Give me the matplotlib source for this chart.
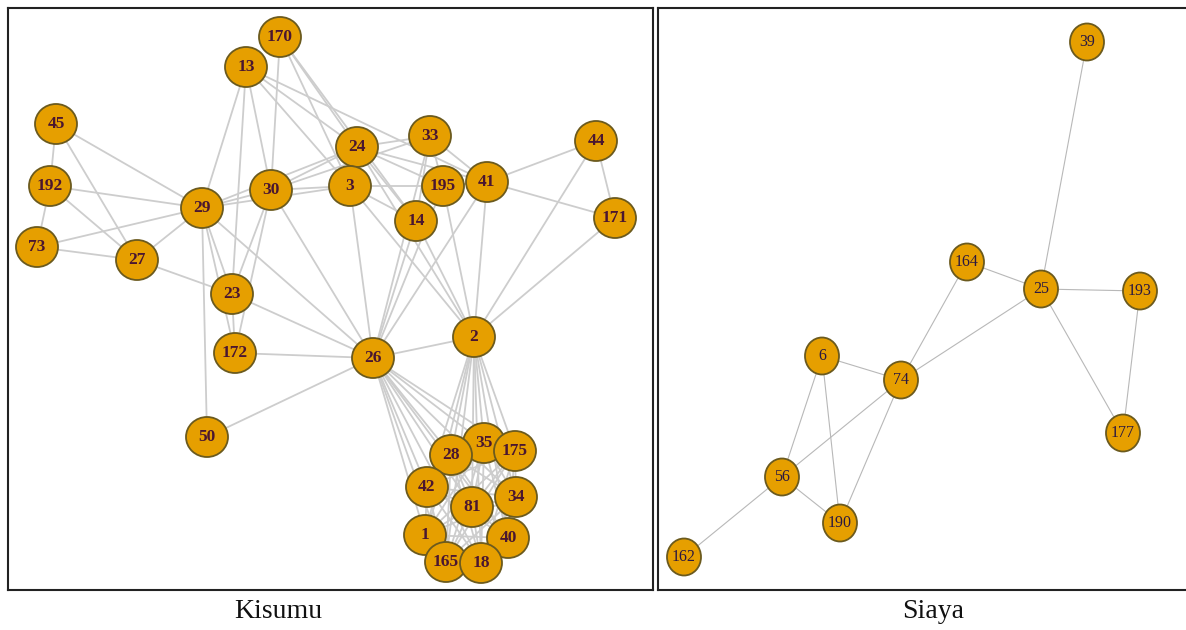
"""Two network panels (Kisumu, Siaya) drawn igraph-style with matplotlib."""
import matplotlib
matplotlib.use('Agg')
import matplotlib.pyplot as plt
from matplotlib.patches import Ellipse

W, H = 1186, 630

# --- Kisumu: node layout (image pixel coords) ---
kis_nodes = ['45', '192', '73', '27', '29', '170', '13', '30', '23', '172', '50',
             '24', '3', '33', '195', '41', '14', '44', '171', '26', '2',
             '35', '28', '175', '42', '81', '34', '1', '40', '165', '18']
kis_x = [56, 50, 37, 137, 202, 280, 246, 271, 232, 235, 207,
         357, 350, 430, 443, 487, 416, 596, 615, 373, 474,
         484, 451, 515, 427, 472, 516, 425, 508, 446, 481]
kis_y = [124, 186, 247, 260, 208, 37, 67, 190, 294, 353, 437,
         147, 186, 136, 186, 182, 221, 141, 218, 358, 337,
         443, 455, 451, 487, 507, 497, 535, 538, 562, 563]

kis_edges = [
    ('45', '192'), ('45', '29'), ('45', '27'),
    ('192', '73'), ('192', '29'), ('192', '27'),
    ('73', '29'), ('73', '27'), ('27', '29'), ('27', '23'),
    ('29', '13'), ('29', '30'), ('29', '23'), ('29', '172'), ('29', '50'),
    ('29', '26'), ('29', '3'), ('29', '24'),
    ('13', '30'), ('13', '24'), ('13', '3'), ('13', '41'), ('13', '23'),
    ('170', '30'), ('170', '3'), ('170', '24'), ('170', '14'),
    ('30', '3'), ('30', '24'), ('30', '23'), ('30', '172'), ('30', '26'), ('30', '33'),
    ('23', '172'), ('23', '26'), ('172', '26'), ('50', '26'),
    ('24', '33'), ('24', '195'), ('24', '14'), ('24', '2'), ('24', '41'),
    ('3', '195'), ('3', '26'), ('3', '2'), ('3', '14'),
    ('33', '195'), ('33', '41'), ('33', '14'), ('33', '26'),
    ('195', '41'), ('195', '2'), ('195', '26'),
    ('41', '44'), ('41', '171'), ('41', '2'), ('41', '26'),
    ('14', '26'), ('14', '2'),
    ('44', '171'), ('44', '2'), ('171', '2'), ('26', '2'),
]
# dense cluster at the bottom: everyone linked to each other and to 26 and 2
kis_cluster = ['35', '28', '175', '42', '81', '34', '1', '40', '165', '18']

# --- Siaya ---
sia_nodes = ['39', '164', '25', '193', '6', '74', '177', '56', '190', '162']
sia_x = [1087, 967, 1041, 1140, 822, 901, 1123, 782, 840, 684]
sia_y = [42, 262, 289, 291, 356, 380, 433, 477, 523, 557]
sia_edges = [('39', '25'), ('164', '25'), ('25', '193'), ('25', '74'), ('25', '177'),
             ('193', '177'), ('164', '74'), ('6', '74'), ('6', '56'), ('6', '190'),
             ('74', '56'), ('74', '190'), ('56', '190'), ('56', '162')]

FILL = '#E69F00'
BORDER = '#6b5a1e'


def panel(box, nodes, xs, ys, edges, node_w, node_h, ecol, elw, fsize, fweight, tcol,
          title, title_x):
    x0, y0, x1, y1 = box
    ax = fig.add_axes([x0 / W, 1 - y1 / H, (x1 - x0) / W, (y1 - y0) / H])
    ax.set_xlim(x0, x1); ax.set_ylim(y1, y0)
    ax.set_xticks([]); ax.set_yticks([])
    for s in ax.spines.values():
        s.set_linewidth(1.5); s.set_color('#222222')
    pos = {n: (x, y) for n, x, y in zip(nodes, xs, ys)}
    for a, b in edges:
        ax.plot([pos[a][0], pos[b][0]], [pos[a][1], pos[b][1]],
                color=ecol, lw=elw, zorder=1, solid_capstyle='round')
    for i, n in enumerate(nodes):
        ax.add_patch(Ellipse(pos[n], node_w, node_h, facecolor=FILL,
                             edgecolor=BORDER, lw=1.3, zorder=2 + i * 0.01))
        ax.text(pos[n][0], pos[n][1], n, ha='center', va='center', fontsize=fsize,
                family='Liberation Serif', fontweight=fweight, color=tcol,
                zorder=2.005 + i * 0.01)
    fig.text(title_x / W, 1 - 612 / H, title, ha='center', va='center',
             fontsize=20, family='Liberation Serif', color='#111111')
    return ax


fig = plt.figure(figsize=(W / 100, H / 100), dpi=100)

all_kis = list(kis_edges)
for i, a in enumerate(kis_cluster):
    all_kis += [(a, '26'), (a, '2')]
    for b in kis_cluster[i + 1:]:
        all_kis.append((a, b))

panel((8, 8, 653, 590), kis_nodes, kis_x, kis_y, all_kis, 42, 40,
      '#cdcdcd', 1.3, 12.5, 'bold', '#4a1630', 'Kisumu', 278)
panel((658, 8, 1189, 590), sia_nodes, sia_x, sia_y, sia_edges, 34, 37,
      '#b8b8b8', 0.8, 11.5, 'normal', '#2a1840', 'Siaya', 933)

fig.savefig('out.png', dpi=100)
